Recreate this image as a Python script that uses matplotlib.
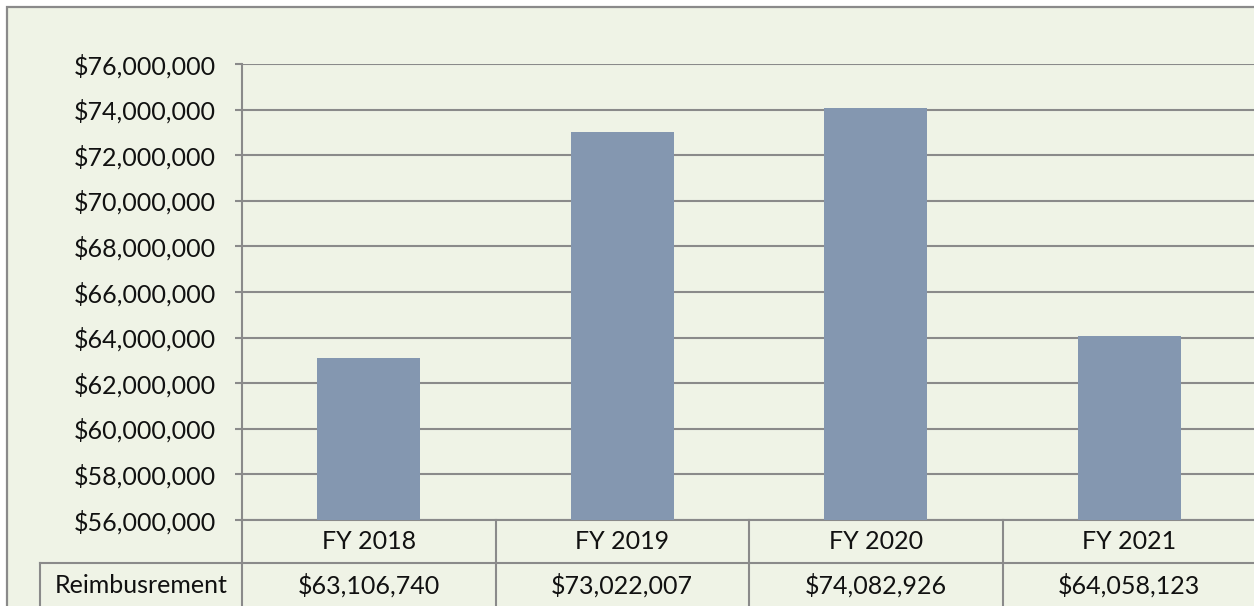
import matplotlib
matplotlib.use("Agg")
import matplotlib.pyplot as plt
from matplotlib.patches import Rectangle
from matplotlib.ticker import FuncFormatter, MultipleLocator

# chart data
categories = ["FY 2018", "FY 2019", "FY 2020", "FY 2021"]
reimbursement = [63106740, 73022007, 74082926, 64058123]
row_label = "Reimbusrement"

bg = "#eff3e6"
bar_color = "#8497b0"
line_color = "#8a8a8a"
text_color = "#111111"
fsize = 18

plt.rcParams["font.family"] = ["Lato", "DejaVu Sans"]

fig = plt.figure(figsize=(12.54, 6.06), dpi=100)
fig.patch.set_facecolor("white")

# outer chart frame (right/bottom cropped off)
fig.patches.append(Rectangle((7 / 1254, -0.1), 1.2, 1 - 7 / 606 + 0.1,
                             transform=fig.transFigure, facecolor=bg,
                             edgecolor=line_color, linewidth=1.6, zorder=-10))

ax = fig.add_axes([242 / 1254, 1 - 520 / 606, 1014 / 1254, 456 / 606])
ax.set_facecolor(bg)
ax.patch.set_alpha(0)

x = range(len(categories))
ax.bar(x, reimbursement, width=0.405, color=bar_color, zorder=3)

ax.set_xlim(-0.5, 3.5)
ax.set_ylim(56000000, 76000000)
ax.yaxis.set_major_locator(MultipleLocator(2000000))
ax.yaxis.set_major_formatter(FuncFormatter(lambda v, p: f"${v:,.0f}"))
ax.grid(axis="y", color=line_color, linewidth=1.5, zorder=1)
ax.set_xticks([])

for s in ["top", "right", "bottom"]:
    ax.spines[s].set_visible(False)
ax.spines["left"].set_color(line_color)
ax.spines["left"].set_linewidth(1.5)
ax.tick_params(axis="y", length=5, width=1.5, color=line_color,
               labelsize=fsize, labelcolor=text_color, pad=14)

# data table under the plot
tr = ax.get_xaxis_transform()
row_y1, row_line, row_y2, tbl_bottom = -0.048, -0.094, -0.143, -0.2
cell_left = -1.295
kw = dict(color=line_color, linewidth=1.5, transform=tr, clip_on=False)

ax.plot([-0.5, 3.6], [0, 0], **kw)
ax.plot([cell_left, 3.6], [row_line, row_line], **kw)
ax.plot([-0.5, -0.5], [0, tbl_bottom], **kw)
ax.plot([cell_left, cell_left], [row_line, tbl_bottom], **kw)
for b in [0.5, 1.5, 2.5]:
    ax.plot([b, b], [0, tbl_bottom], **kw)

for i, (cat, val) in enumerate(zip(categories, reimbursement)):
    ax.text(i, row_y1, cat, transform=tr, ha="center", va="center",
            fontsize=fsize, color=text_color)
    ax.text(i, row_y2, f"${val:,.0f}", transform=tr, ha="center",
            va="center", fontsize=fsize, color=text_color)
ax.text((cell_left - 0.5) / 2, row_y2, row_label, transform=tr,
        ha="center", va="center", fontsize=fsize, color=text_color)

fig.savefig("out.png", dpi=100, facecolor=fig.get_facecolor())
